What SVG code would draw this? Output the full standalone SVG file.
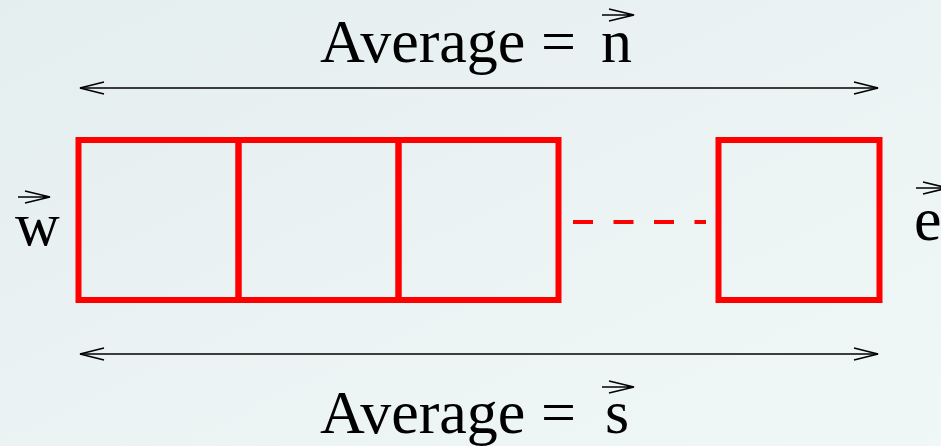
<svg xmlns="http://www.w3.org/2000/svg" width="941" height="446" viewBox="0 0 941 446">
<defs>
<linearGradient id="bg" x1="0" y1="0" x2="1" y2="1">
<stop offset="0" stop-color="#e5eeef"/>
<stop offset="1" stop-color="#f0f7f7"/>
</linearGradient>
<marker id="head" viewBox="0 0 26 14" refX="25" refY="7" markerWidth="26" markerHeight="14" markerUnits="userSpaceOnUse" orient="auto-start-reverse">
<path d="M1,1 L25,7 L1,13" fill="none" stroke="#000" stroke-width="1.6"/>
</marker>
<path id="vec" d="M0,6 H32 M7,0 L32,6 L7,12" fill="none" stroke="#000" stroke-width="1.6"/>
</defs>
<style>
.lbl{font-family:"Liberation Serif","Times New Roman",serif;font-size:62px;fill:#000}
.box{fill:none;stroke:#ff0000;stroke-width:6}
.dim{stroke:#000;stroke-width:1.6;fill:none}
</style>
<rect width="941" height="446" fill="url(#bg)"/>
<g id="connectors">
<line class="dim" x1="80" y1="88" x2="878" y2="88" marker-start="url(#head)" marker-end="url(#head)"/>
<line class="dim" x1="80" y1="354" x2="878" y2="354" marker-start="url(#head)" marker-end="url(#head)"/>
<line x1="573" y1="222" x2="706" y2="222" stroke="#ff0000" stroke-width="4" stroke-dasharray="20 20.5"/>
</g>
<g id="box1"><rect class="box" x="78.5" y="140" width="160" height="160"/></g>
<g id="box2"><rect class="box" x="238.5" y="140" width="160" height="160"/></g>
<g id="box3"><rect class="box" x="398.5" y="140" width="160" height="160"/></g>
<g id="box4"><rect class="box" x="718.5" y="140" width="161" height="160"/></g>
<g id="label-top">
<text class="lbl" x="320" y="62">Average =</text>
<text class="lbl" x="601" y="62">n</text>
<use href="#vec" x="602" y="9"/>
</g>
<g id="label-bottom">
<text class="lbl" x="320" y="433">Average =</text>
<text class="lbl" x="605" y="433">s</text>
<use href="#vec" x="602" y="381"/>
</g>
<g id="label-w">
<text class="lbl" x="15" y="245">w</text>
<use href="#vec" x="18" y="191"/>
</g>
<g id="label-e">
<text class="lbl" x="914" y="240">e</text>
<use href="#vec" x="916" y="182"/>
</g>
</svg>
